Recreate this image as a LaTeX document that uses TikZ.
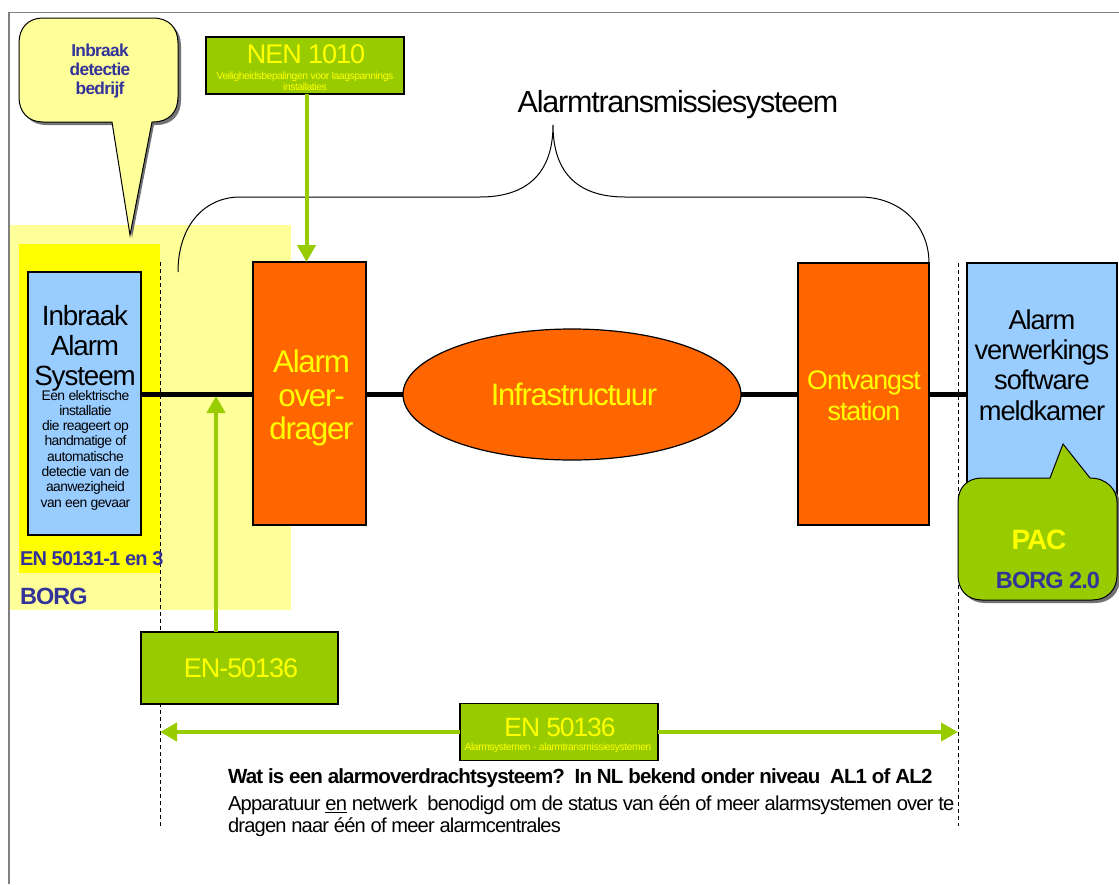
\documentclass[tikz,border=0pt]{standalone}
\usepackage{fontspec}
\setmainfont{Liberation Sans}
\newfontfamily\tight[LetterSpace=-4]{Liberation Sans}
\usetikzlibrary{arrows.meta,shapes.geometric}
\definecolor{orng}{HTML}{FF6600}
\definecolor{grn}{HTML}{99CC00}
\definecolor{pale}{HTML}{FFFF99}
\definecolor{yel}{HTML}{FFFF00}
\definecolor{sky}{HTML}{99CCFF}
\definecolor{navy}{HTML}{333399}
\newcommand{\fs}[2]{\fontsize{#1}{#2}\selectfont\tight}
\tikzset{
  box/.style={draw=black,line width=1.2pt,anchor=north west,inner sep=0pt,outer sep=0pt},
  txt/.style={inner sep=0pt,outer sep=0pt,align=center},
  greenline/.style={draw=grn,line width=4pt},
  greentip/.style={-{Triangle[length=17pt,width=18pt]}},
  guide/.style={draw=black,line width=0.7pt,dash pattern=on 4pt off 3pt},
  link/.style={draw=black,line width=4.5pt},
}
\begin{document}
\begin{tikzpicture}[x=1pt,y=-1pt]
\useasboundingbox (0,0) rectangle (1119,884);
\fill[white] (0,0) rectangle (1119,884);
\draw[gray,line width=1.3pt] (9,884) -- (9,12.5) -- (1119,12.5);

\node[box,draw=none,fill=pale,minimum width=281pt,minimum height=385pt] (zone) at (10,225) {};
\node[box,draw=none,fill=yel,minimum width=141pt,minimum height=329pt] (inner) at (19,244) {};

% brace
\draw[black,line width=1pt] (178,272) .. controls (178,225) and (205,197) .. (240,197)
  -- (480,197) .. controls (525,197) and (553,175) .. (553,125)
  .. controls (553,175) and (580,197) .. (625,197)
  -- (860,197) .. controls (900,197) and (929,225) .. (929,263);

% boxes
\node[box,fill=sky,minimum width=113pt,minimum height=263pt] (ias) at (28,272) {};
\node[box,fill=orng,minimum width=113pt,minimum height=263pt] (ov) at (253,262) {};
\node[box,fill=orng,minimum width=131pt,minimum height=262pt] (ont) at (798,263) {};
\node[box,fill=sky,minimum width=150pt,minimum height=262pt] (sw) at (967,263) {};
\node[draw=black,line width=1.2pt,fill=orng,ellipse,minimum width=338pt,minimum height=131pt,inner sep=0pt,outer sep=0pt] (infra) at (572,394.5) {};

% links
\draw[link] (ias.east |- infra.west) -- (ov.west |- infra.west);
\draw[link] (ov.east |- infra.west) -- (infra.west);
\draw[link] (infra.east) -- (ont.west |- infra.east);
\draw[link] (ont.east |- infra.east) -- (sw.west |- infra.east);

% guides
\coordinate (g1a) at (160,262); \coordinate (g1b) at (160,826);
\coordinate (g2a) at (958,263); \coordinate (g2b) at (958,826);
\draw[guide] (g1a) -- (g1b);
\draw[guide] (g2a) -- (g2b);

% callout 1
\path[fill=black!55] (46,21) -- (156,21) .. controls (172,21) and (181,31) .. (181,46) -- (181,100) .. controls (181,115) and (172,125) .. (156,125) -- (154,125) -- (132,238) -- (115,125) -- (46,125) .. controls (31,125) and (22,115) .. (22,100) -- (22,46) .. controls (22,31) and (31,21) .. (46,21) -- cycle;
\draw[black,line width=1pt,fill=pale] (43,18) -- (153,18) .. controls (169,18) and (178,28) .. (178,43) -- (178,97) .. controls (178,112) and (169,122) .. (153,122) -- (152,122) -- (130,235) -- (112,122) -- (43,122) .. controls (28,122) and (19,112) .. (19,97) -- (19,43) .. controls (19,28) and (28,18) .. (43,18) -- cycle;
\node[txt,text=navy,font=\fs{17.3}{19}\bfseries] (cal1) at (100,71) {Inbraak\\detectie\\bedrijf};

% callout PAC
\path[fill=black!55] (985,481) -- (1053,481) -- (1093,481) .. controls (1110,481) and (1120,493) .. (1120,505) -- (1120,578) .. controls (1120,593) and (1110,603) .. (1095,603) -- (985,603) .. controls (970,603) and (961,593) .. (961,578) -- (961,505) .. controls (961,491) and (970,481) .. (985,481) -- cycle;
\draw[black,line width=1pt,fill=grn] (982,478) -- (1050,478) -- (1063,444) -- (1090,478) .. controls (1107,478) and (1117,490) .. (1117,502) -- (1117,575) .. controls (1117,590) and (1107,600) .. (1092,600) -- (982,600) .. controls (967,600) and (958,590) .. (958,575) -- (958,502) .. controls (958,488) and (967,478) .. (982,478) -- cycle;

% green boxes
\node[box,fill=grn,minimum width=198pt,minimum height=57pt] (nen) at (206,37) {};
\node[box,fill=grn,minimum width=197pt,minimum height=72pt] (en1) at (141,632) {};
\node[box,fill=grn,minimum width=198pt,minimum height=57pt] (en2) at (460,703.5) {};

% green arrows
\coordinate (dn) at (306.5,262);
\draw[greenline,greentip] (nen.south -| dn) -- (dn);
\coordinate (up) at (216,396);
\draw[greenline,greentip] (en1.north -| up) -- (up);
\coordinate (la) at (160,732); \coordinate (ra) at (958,732);
\draw[greenline,greentip] (en2.west |- la) -- (la);
\draw[greenline,greentip] (en2.east |- ra) -- (ra);

% texts
\node[txt,font=\fs{30.5}{30.5}] (title) at (678,105) {Alarmtransmissiesysteem};
\node[txt,text=yel,font=\fs{27}{27}] (t1) at (306,54) {NEN 1010};
\node[txt,text=yel,font=\fs{10.3}{11.5}] (t2) at (305,81.5) {Veiligheidsbepalingen voor laagspannings\\installaties};
\node[txt,font=\fs{27.8}{30}] (t3) at (85,348) {Inbraak\\Alarm\\Systeem};
\node[txt,font=\fs{13.9}{15.3}] (t4) at (85.5,450) {Een elektrische\\installatie\\die reageert op\\handmatige of\\automatische\\detectie van de\\aanwezigheid\\van een gevaar};
\node[txt,text=navy,font=\fs{20}{20}\bfseries,anchor=west] (t5) at (20,559) {EN 50131-1 en 3};
\node[txt,text=navy,font=\fs{23.5}{24}\bfseries,anchor=west] (t6) at (20,596) {BORG};
\node[txt,text=yel,font=\fs{31.3}{33.5}] (t7) at (311.5,398) {Alarm\\over-\hspace{10pt}\\drager};
\node[txt,text=yel,font=\fs{31}{31}] (t8) at (574,394) {Infrastructuur};
\node[txt,text=yel,font=\fs{26.8}{31}] (t9) at (864,395.5) {Ontvangst\\station};
\node[txt,font=\fs{27.3}{30.3}] (t10) at (1042,365) {Alarm\\verwerkings\\software\\meldkamer};
\node[txt,text=yel,font=\fs{28}{28}\bfseries] (t11) at (1039,540) {PAC};
\node[txt,text=navy,font=\fs{23.5}{24}\bfseries] (t12) at (1048,580) {BORG 2.0};
\node[txt,text=yel,font=\fs{27}{27}] (t13) at (241,668) {EN-50136};
\node[txt,text=yel,font=\fs{26.4}{27}] (t14) at (560,727) {EN 50136};
\node[txt,text=yel,font=\fs{10.3}{11}] (t15) at (558,748) {Alarmsystemen - alarmtransmissiesystemen};
\node[txt,font=\fs{20.5}{20}\bfseries,anchor=west] (t16) at (228,778) {Wat is een alarmoverdrachtsysteem?\ \ In NL bekend onder niveau\ \ AL1 of AL2};
\node[txt,font=\fs{20.2}{20},anchor=west] (t17) at (228,805) {Apparatuur \underline{en} netwerk\ \ benodigd om de status van één of meer alarmsystemen over te};
\node[txt,font=\fs{20.1}{20},anchor=west] (t18) at (228,827) {dragen naar één of meer alarmcentrales};
\end{tikzpicture}
\end{document}
